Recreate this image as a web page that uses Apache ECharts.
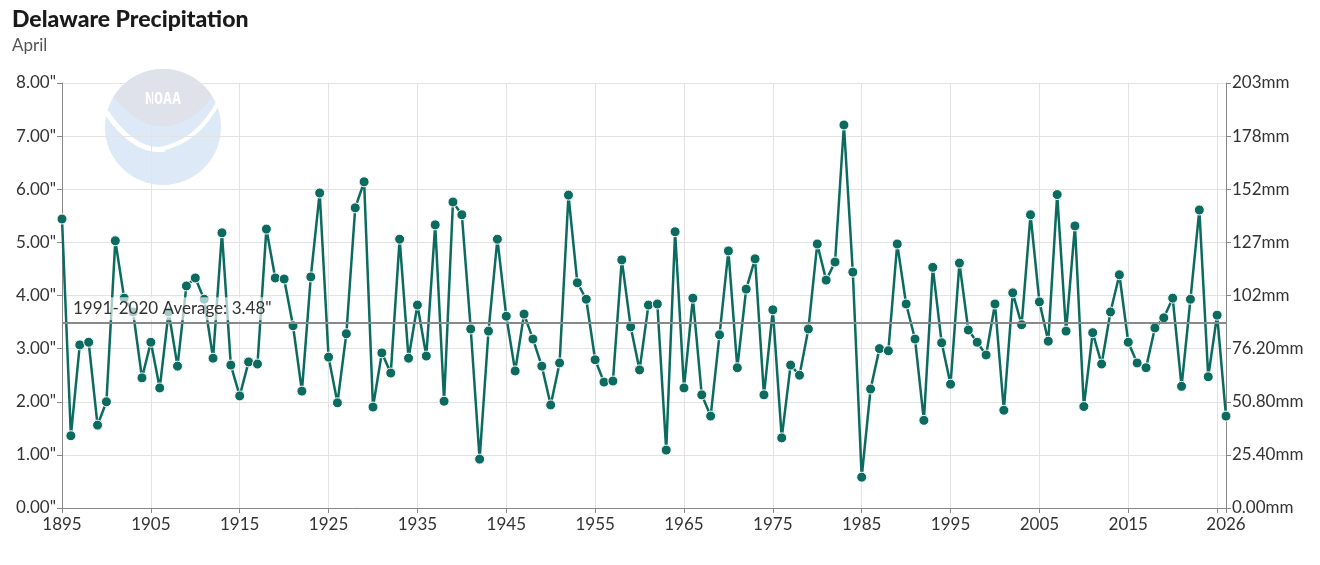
<!DOCTYPE html>
<html>
<head>
<meta charset="utf-8">
<script src="https://cdn.jsdelivr.net/npm/echarts@6/dist/echarts.min.js"></script>
<style>
html,body{margin:0;padding:0;background:#fff;}
#chart{width:1320px;height:565px;}
</style>
</head>
<body>
<div id="chart"></div>
<script>
const titleText = 'Delaware Precipitation';
const subtitleText = 'April';
const startYear = 1895;
const endYear = 2026;
const years = [];
for (let y = startYear; y <= endYear; y++) years.push(String(y));

const precipitation = [
  5.44, 1.36, 3.07, 3.12, 1.56, 2.00, 5.03, 3.95, 3.69, 2.45,
  3.12, 2.26, 3.69, 2.67, 4.18, 4.33, 3.93, 2.82, 5.18, 2.69,
  2.11, 2.75, 2.71, 5.25, 4.33, 4.31, 3.43, 2.20, 4.35, 5.93,
  2.84, 1.98, 3.28, 5.65, 6.14, 1.90, 2.92, 2.54, 5.06, 2.82,
  3.82, 2.86, 5.33, 2.01, 5.76, 5.52, 3.37, 0.92, 3.33, 5.06,
  3.61, 2.58, 3.65, 3.18, 2.67, 1.94, 2.73, 5.89, 4.24, 3.93,
  2.79, 2.37, 2.39, 4.67, 3.41, 2.60, 3.82, 3.84, 1.09, 5.20,
  2.26, 3.95, 2.13, 1.73, 3.26, 4.84, 2.64, 4.12, 4.69, 2.13,
  3.73, 1.32, 2.69, 2.50, 3.37, 4.97, 4.29, 4.63, 7.21, 4.44,
  0.58, 2.24, 3.00, 2.96, 4.97, 3.84, 3.18, 1.65, 4.53, 3.11,
  2.33, 4.61, 3.35, 3.12, 2.88, 3.84, 1.84, 4.05, 3.45, 5.52,
  3.88, 3.14, 5.90, 3.33, 5.31, 1.91, 3.30, 2.71, 3.69, 4.39,
  3.12, 2.73, 2.64, 3.39, 3.58, 3.95, 2.29, 3.93, 5.61, 2.47,
  3.63, 1.73
];

const averageValue = 3.48;
const averageLabel = '1991-2020 Average: 3.48"';
const inchTicks = [0, 1, 2, 3, 4, 5, 6, 7, 8];
const mmPerInch = 25.4;

const FONT = 'Lato, "Source Sans Pro", "Noto Sans", sans-serif';
const chart = echarts.init(document.getElementById('chart'));

function isDecade(y) { return (y - startYear) % 10 === 0; }

// decorative logo outline (not data)
const logoCx = 163, logoCy = 127, logoR = 58;
const grayPts = [];
(function () {
  const a0 = Math.PI + Math.asin((logoCy - 97) / logoR);
  const a1 = 2 * Math.PI - Math.asin((logoCy - 97) / logoR);
  for (let i = 0; i <= 30; i++) {
    const a = a0 + (a1 - a0) * i / 30;
    grayPts.push([logoCx + logoR * Math.cos(a), logoCy + logoR * Math.sin(a)]);
  }
  const p0 = grayPts[grayPts.length - 1], p2 = grayPts[0], c = [logoCx, 156];
  for (let i = 1; i < 20; i++) {
    const t = i / 20;
    const x = (1 - t) * (1 - t) * p0[0] + 2 * (1 - t) * t * c[0] + t * t * p2[0];
    const y = (1 - t) * (1 - t) * p0[1] + 2 * (1 - t) * t * c[1] + t * t * p2[1];
    grayPts.push([x, y]);
  }
})();

const option = {
  backgroundColor: '#fff',
  animation: false,
  title: {
    text: titleText,
    subtext: subtitleText,
    left: 7,
    top: 3,
    itemGap: 6,
    textStyle: { fontFamily: FONT, fontSize: 23, fontWeight: 900, color: '#1a1a1a' },
    subtextStyle: { fontFamily: FONT, fontSize: 17, color: '#555' }
  },
  graphic: [
    {
      type: 'group',
      silent: true,
      z: 0,
      children: [
        { type: 'circle', shape: { cx: logoCx, cy: logoCy, r: logoR }, style: { fill: '#dde9f6' } },
        { type: 'polygon', shape: { points: grayPts }, style: { fill: '#dfe2eb' } },
        { type: 'bezierCurve', shape: { x1: 106, y1: 112, cpx1: 135, cpy1: 154, x2: 165, y2: 149 }, style: { fill: null, stroke: '#ffffff', lineWidth: 5 } },
        { type: 'bezierCurve', shape: { x1: 160, y1: 149, cpx1: 198, cpy1: 142, x2: 219, y2: 101 }, style: { fill: null, stroke: '#ffffff', lineWidth: 4 } },
        { type: 'text', style: { x: logoCx, y: 100, text: 'NOAA', fill: '#ffffff', font: 'bold 15px "DejaVu Sans Mono", monospace', textAlign: 'center', textVerticalAlign: 'middle' } }
      ]
    }
  ],
  grid: { left: 62, right: 94, top: 83, bottom: 57, containLabel: false },
  xAxis: {
    type: 'category',
    data: years,
    boundaryGap: false,
    axisLine: { show: true, lineStyle: { color: '#888', width: 1 } },
    axisTick: {
      show: true,
      length: 5,
      lineStyle: { color: '#888' },
      interval: function (idx, val) { const y = +val; return isDecade(y) || y === endYear; }
    },
    axisLabel: {
      fontFamily: FONT,
      fontSize: 17,
      color: '#333',
      margin: 8,
      interval: function (idx, val) { const y = +val; return y === endYear || (isDecade(y) && y !== 2025); }
    },
    splitLine: {
      show: true,
      lineStyle: { color: '#e3e3e3', width: 1 },
      interval: function (idx, val) { return isDecade(+val); }
    }
  },
  yAxis: [
    {
      type: 'value',
      min: inchTicks[0],
      max: inchTicks[inchTicks.length - 1],
      interval: 1,
      axisLine: { show: true, lineStyle: { color: '#888', width: 1 } },
      axisTick: { show: true, length: 5, lineStyle: { color: '#888' } },
      axisLabel: {
        fontFamily: FONT, fontSize: 17, color: '#333', margin: 6,
        formatter: function (v) { return v.toFixed(2) + '"'; }
      },
      splitLine: { show: true, lineStyle: { color: '#e3e3e3', width: 1 } }
    },
    {
      type: 'value',
      position: 'right',
      min: inchTicks[0] * mmPerInch,
      max: inchTicks[inchTicks.length - 1] * mmPerInch,
      interval: mmPerInch,
      axisLine: { show: true, lineStyle: { color: '#888', width: 1 } },
      axisTick: { show: true, length: 5, lineStyle: { color: '#888' } },
      axisLabel: {
        fontFamily: FONT, fontSize: 17, color: '#333', margin: 6,
        formatter: function (v) { return (v >= 100 ? v.toFixed(0) : v.toFixed(2)) + 'mm'; }
      },
      splitLine: { show: false }
    }
  ],
  series: [
    {
      type: 'line',
      data: precipitation,
      yAxisIndex: 0,
      symbol: 'circle',
      symbolSize: 10,
      showAllSymbol: true,
      z: 2,
      lineStyle: { color: '#0b6b5f', width: 2.5 },
      itemStyle: { color: '#0b6b5f', borderColor: '#ffffff', borderWidth: 1 },
      markLine: {
        silent: true,
        symbol: 'none',
        z: 5,
        lineStyle: { color: '#8a8a8a', width: 2, type: 'solid' },
        label: {
          show: true,
          position: 'insideStartTop',
          formatter: averageLabel,
          fontFamily: FONT,
          fontSize: 17,
          color: '#333',
          distance: [6, 3],
          backgroundColor: 'rgba(255,255,255,0.65)',
          padding: [3, 5]
        },
        data: [{ yAxis: averageValue }]
      }
    }
  ]
};
chart.setOption(option);
</script>
</body>
</html>
